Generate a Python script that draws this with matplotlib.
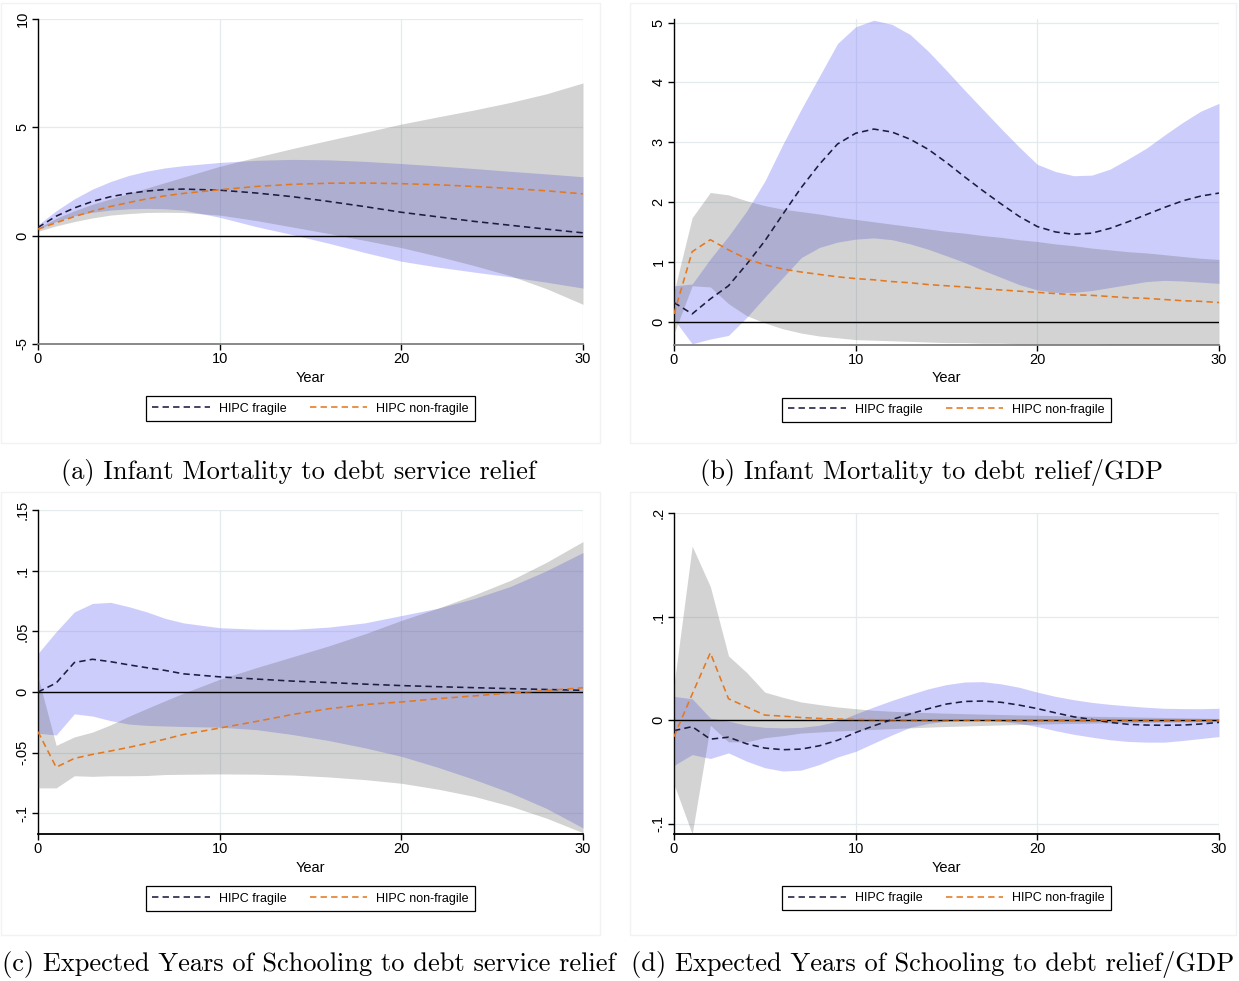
import matplotlib
matplotlib.use("Agg")
import matplotlib.pyplot as plt
from matplotlib.lines import Line2D
from matplotlib.patches import Rectangle

plt.rcParams['font.family'] = ['Liberation Sans', 'DejaVu Sans']

# horizon (years) used by each panel
YEARS_AC = [0, 1, 2, 3, 4, 5, 6, 7, 8, 10, 12, 14, 16, 18, 20, 22, 24, 26, 28, 30]
YEARS_BD = list(range(31))

# (a) Infant mortality, debt service relief
a_frag_mid = [0.38, 0.9, 1.28, 1.58, 1.8, 1.95, 2.06, 2.13, 2.15, 2.1, 1.97, 1.8, 1.58, 1.34, 1.08, 0.87, 0.66, 0.48, 0.3, 0.13]
a_frag_lo = [0.3, 0.65, 0.92, 1.08, 1.18, 1.24, 1.26, 1.24, 1.18, 0.85, 0.42, 0.05, -0.35, -0.78, -1.18, -1.45, -1.68, -1.9, -2.15, -2.42]
a_frag_hi = [0.5, 1.15, 1.7, 2.15, 2.5, 2.78, 2.98, 3.13, 3.23, 3.38, 3.48, 3.52, 3.5, 3.43, 3.33, 3.22, 3.1, 2.97, 2.85, 2.72]
a_nf_mid = [0.3, 0.6, 0.88, 1.13, 1.35, 1.53, 1.7, 1.84, 1.95, 2.12, 2.27, 2.37, 2.42, 2.43, 2.4, 2.35, 2.27, 2.18, 2.07, 1.93]
a_nf_lo = [0.2, 0.45, 0.65, 0.82, 0.95, 1.02, 1.07, 1.08, 1.07, 0.95, 0.7, 0.4, 0.1, -0.22, -0.55, -0.95, -1.38, -1.85, -2.45, -3.17]
a_nf_hi = [0.35, 0.8, 1.15, 1.45, 1.7, 1.95, 2.2, 2.45, 2.7, 3.2, 3.62, 4.02, 4.4, 4.77, 5.15, 5.48, 5.8, 6.15, 6.55, 7.05]

# (b) Infant mortality, debt relief/GDP
b_frag_mid = [0.32, 0.13, 0.38, 0.6, 0.96, 1.35, 1.8, 2.24, 2.63, 2.97, 3.15, 3.22, 3.17, 3.05, 2.88, 2.66, 2.42, 2.19, 1.97, 1.76,
              1.59, 1.5, 1.46, 1.48, 1.56, 1.67, 1.79, 1.91, 2.02, 2.1, 2.15]
b_frag_lo = [0.04, -0.37, -0.29, -0.23, 0.07, 0.41, 0.74, 1.07, 1.24, 1.33, 1.38, 1.4, 1.37, 1.3, 1.21, 1.1, 0.99, 0.86, 0.74, 0.62,
             0.53, 0.49, 0.49, 0.52, 0.57, 0.62, 0.67, 0.69, 0.68, 0.66, 0.64]
b_frag_hi = [0.6, 0.63, 1.05, 1.43, 1.85, 2.35, 2.97, 3.55, 4.1, 4.65, 4.93, 5.04, 4.97, 4.8, 4.52, 4.2, 3.87, 3.55, 3.23, 2.92,
             2.63, 2.51, 2.44, 2.45, 2.55, 2.72, 2.9, 3.12, 3.33, 3.52, 3.65]
b_nf_mid = [0.13, 1.17, 1.37, 1.2, 1.05, 0.95, 0.88, 0.83, 0.79, 0.75, 0.72, 0.7, 0.67, 0.65, 0.62, 0.6, 0.58, 0.55, 0.53, 0.51,
            0.49, 0.47, 0.45, 0.44, 0.42, 0.4, 0.39, 0.37, 0.35, 0.34, 0.32]
b_nf_lo = [-0.2, 0.6, 0.58, 0.3, 0.1, -0.02, -0.12, -0.19, -0.24, -0.27, -0.3, -0.31, -0.32, -0.33, -0.34, -0.35, -0.35, -0.36, -0.36, -0.37,
           -0.37, -0.37, -0.37, -0.37, -0.38, -0.38, -0.38, -0.38, -0.38, -0.38, -0.38]
b_nf_hi = [0.5, 1.74, 2.16, 2.12, 2.02, 1.94, 1.88, 1.84, 1.8, 1.75, 1.71, 1.67, 1.63, 1.59, 1.55, 1.51, 1.48, 1.44, 1.41, 1.37,
           1.34, 1.3, 1.27, 1.23, 1.2, 1.17, 1.15, 1.12, 1.09, 1.06, 1.04]

# (c) Expected years of schooling, debt service relief
c_frag_mid = [0.0, 0.0074, 0.0243, 0.027, 0.025, 0.0224, 0.02, 0.0178, 0.015, 0.0125, 0.0107, 0.009, 0.0078, 0.0065, 0.0053, 0.0044, 0.0036, 0.0028, 0.0021, 0.0014]
c_frag_lo = [-0.034, -0.0354, -0.018, -0.0198, -0.0236, -0.0264, -0.0275, -0.028, -0.0284, -0.029, -0.031, -0.035, -0.04, -0.046, -0.053, -0.062, -0.072, -0.083, -0.096, -0.112]
c_frag_hi = [0.0318, 0.0497, 0.066, 0.073, 0.0739, 0.0703, 0.066, 0.0607, 0.057, 0.053, 0.0518, 0.0516, 0.0535, 0.057, 0.063, 0.069, 0.077, 0.087, 0.1, 0.115]
c_nf_mid = [-0.0327, -0.062, -0.0547, -0.0514, -0.0486, -0.0456, -0.0423, -0.0388, -0.035, -0.0297, -0.0243, -0.0185, -0.0138, -0.0103, -0.0082, -0.0055, -0.0032, -0.0008, 0.0013, 0.0035]
c_nf_lo = [-0.079, -0.079, -0.069, -0.0695, -0.069, -0.069, -0.0688, -0.068, -0.0678, -0.0675, -0.0677, -0.0684, -0.07, -0.0722, -0.0752, -0.08, -0.086, -0.094, -0.104, -0.116]
c_nf_hi = [0.0126, -0.044, -0.037, -0.033, -0.027, -0.02, -0.0135, -0.0072, -0.001, 0.0105, 0.02, 0.029, 0.038, 0.048, 0.059, 0.069, 0.08, 0.092, 0.107, 0.124]

# (d) Expected years of schooling, debt relief/GDP
d_frag_mid = [-0.0102, -0.0063, -0.0184, -0.0165, -0.0229, -0.027, -0.0286, -0.028, -0.0248, -0.0195, -0.012, -0.0055, 0.0005, 0.006, 0.011, 0.0155,
              0.018, 0.0184, 0.0172, 0.0145, 0.0111, 0.007, 0.0032, 0.0006, -0.0022, -0.0041, -0.0048, -0.005, -0.0048, -0.0038, -0.0022]
d_frag_lo = [-0.0438, -0.0333, -0.0371, -0.0317, -0.0397, -0.046, -0.0492, -0.0483, -0.0429, -0.0356, -0.0302, -0.0222, -0.0143, -0.007, -0.0032, -0.001,
             0.0, 0.0, -0.001, -0.0032, -0.0063, -0.0102, -0.0137, -0.0165, -0.019, -0.0206, -0.0213, -0.0213, -0.0197, -0.0178, -0.0159]
d_frag_hi = [0.0229, 0.0206, 0.002, -0.001, -0.005, -0.007, -0.0075, -0.007, -0.005, -0.001, 0.006, 0.0127, 0.019, 0.0248, 0.0302, 0.0343,
             0.0368, 0.0371, 0.035, 0.0317, 0.027, 0.0229, 0.0197, 0.0171, 0.0152, 0.0137, 0.0124, 0.0114, 0.0111, 0.011, 0.0114]
d_nf_mid = [-0.016, 0.025, 0.065, 0.0206, 0.0127, 0.0048, 0.0038, 0.0025, 0.0016, 0.001, 0.0006, 0.0004, 0.0003, 0.0002, 0.0002, 0.0002,
            0.0001, 0.0001, 0.0001, 0.0001, 0.0001, 0.0, 0.0, 0.0, 0.0, 0.0, 0.0, 0.0, 0.0, 0.0, 0.0]
d_nf_lo = [-0.062, -0.11, -0.005, -0.021, -0.021, -0.017, -0.015, -0.0125, -0.0115, -0.0105, -0.0098, -0.009, -0.0082, -0.0075, -0.0068, -0.0062,
           -0.0057, -0.0052, -0.0047, -0.0043, -0.0039, -0.0035, -0.0032, -0.0029, -0.0026, -0.0024, -0.0022, -0.002, -0.0018, -0.0017, -0.0016]
d_nf_hi = [0.034, 0.168, 0.129, 0.062, 0.046, 0.027, 0.022, 0.0175, 0.015, 0.0127, 0.011, 0.0095, 0.0085, 0.0078, 0.0072, 0.0067,
           0.0062, 0.0058, 0.0054, 0.005, 0.0047, 0.0043, 0.004, 0.0037, 0.0034, 0.0031, 0.0028, 0.0025, 0.0022, 0.0019, 0.0016]

CAPTIONS = [
    "(a) Infant Mortality to debt service relief",
    "(b) Infant Mortality to debt relief/GDP",
    "(c) Expected Years of Schooling to debt service relief",
    "(d) Expected Years of Schooling to debt relief/GDP",
]
LEGEND_LABELS = ["HIPC fragile", "HIPC non-fragile"]

W, H = 1239, 981
BLUE = (125 / 255, 125 / 255, 248 / 255)
GRAY = (86 / 255, 86 / 255, 86 / 255)
NAVY = "#1c1c3e"
ORANGE = "#e4781f"
DASH = (0, (4.0, 2.6))
GRID = "#e3ebed"


def px_box(left, top, right, bottom):
    return [left / W, 1 - bottom / H, (right - left) / W, (bottom - top) / H]


def draw_panel(ax, years, frag, nonfrag, ylim, yticks, ylabels, bottom_col):
    fmid, flo, fhi = frag
    nmid, nlo, nhi = nonfrag
    ax.fill_between(years, flo, fhi, color=BLUE, alpha=0.38, lw=0, zorder=2)
    ax.fill_between(years, nlo, nhi, color=GRAY, alpha=0.255, lw=0, zorder=3)
    ax.axhline(0, color="black", lw=1.0, zorder=4)
    ax.plot(years, fmid, color=NAVY, ls=DASH, lw=1.15, zorder=5)
    ax.plot(years, nmid, color=ORANGE, ls=DASH, lw=1.15, zorder=6)

    ax.set_xlim(0, 30)
    ax.set_ylim(*ylim)
    ax.set_xticks([0, 10, 20, 30])
    ax.set_yticks(yticks)
    ax.set_yticklabels(ylabels, rotation=90, va="center")
    ax.tick_params(direction="out", length=4, width=1, labelsize=10.5, pad=2, colors="black")
    ax.set_xlabel("Year", fontsize=10.5, labelpad=3)

    ax.grid(True, color=GRID, lw=0.9)
    ax.set_axisbelow(True)
    for s in ("top", "right"):
        ax.spines[s].set_visible(False)
    ax.spines["left"].set_color("black")
    ax.spines["left"].set_linewidth(1.0)
    ax.spines["bottom"].set_color(bottom_col)
    ax.spines["bottom"].set_linewidth(1.3)

    handles = [Line2D([], [], color=NAVY, ls=DASH, lw=1.15),
               Line2D([], [], color=ORANGE, ls=DASH, lw=1.15)]
    leg = ax.legend(handles, LEGEND_LABELS, loc="upper center", bbox_to_anchor=(0.5, -0.142),
                    ncol=2, frameon=True, fancybox=False, fontsize=9, handlelength=4.6,
                    columnspacing=1.9, handletextpad=0.7, borderpad=0.5)
    leg.get_frame().set_edgecolor("black")
    leg.get_frame().set_linewidth(0.9)
    leg.get_frame().set_alpha(1)


fig = plt.figure(figsize=(W / 100, H / 100), dpi=100)

# light frames around each graph region
for (x0, y0, x1, y1) in [(1, 3, 600, 443), (630, 3, 1236, 443), (1, 492, 600, 935), (630, 492, 1236, 935)]:
    fig.add_artist(Rectangle((x0 / W, 1 - y1 / H), (x1 - x0) / W, (y1 - y0) / H,
                             transform=fig.transFigure, fill=False, edgecolor="#f0f2f3", lw=1))

ax_a = fig.add_axes(px_box(38, 19, 583, 344))
draw_panel(ax_a, YEARS_AC, (a_frag_mid, a_frag_lo, a_frag_hi), (a_nf_mid, a_nf_lo, a_nf_hi),
           (-5, 10), [-5, 0, 5, 10], ["-5", "0", "5", "10"], "#808080")

ax_b = fig.add_axes(px_box(674, 19, 1219, 345))
draw_panel(ax_b, YEARS_BD, (b_frag_mid, b_frag_lo, b_frag_hi), (b_nf_mid, b_nf_lo, b_nf_hi),
           (-0.39, 5.06), [0, 1, 2, 3, 4, 5], ["0", "1", "2", "3", "4", "5"], "#808080")

ax_c = fig.add_axes(px_box(38, 510, 583, 834))
draw_panel(ax_c, YEARS_AC, (c_frag_mid, c_frag_lo, c_frag_hi), (c_nf_mid, c_nf_lo, c_nf_hi),
           (-0.117, 0.15), [-0.1, -0.05, 0, 0.05, 0.1, 0.15], ["-.1", "-.05", "0", ".05", ".1", ".15"], "black")

ax_d = fig.add_axes(px_box(674, 513, 1219, 834))
draw_panel(ax_d, YEARS_BD, (d_frag_mid, d_frag_lo, d_frag_hi), (d_nf_mid, d_nf_lo, d_nf_hi),
           (-0.11, 0.2), [-0.1, 0, 0.1, 0.2], ["-.1", "0", ".1", ".2"], "black")

# captions under each panel
caption_pos = [(298, 473), (932, 473), (2, 964), (933, 964)]
for (cx, cy), text in zip(caption_pos, CAPTIONS):
    ha = "left" if cx < 10 else "center"
    fig.text(cx / W, 1 - cy / H, text, ha=ha, va="center", fontfamily="cmr10", fontsize=19)

fig.savefig("out.png", dpi=100)
